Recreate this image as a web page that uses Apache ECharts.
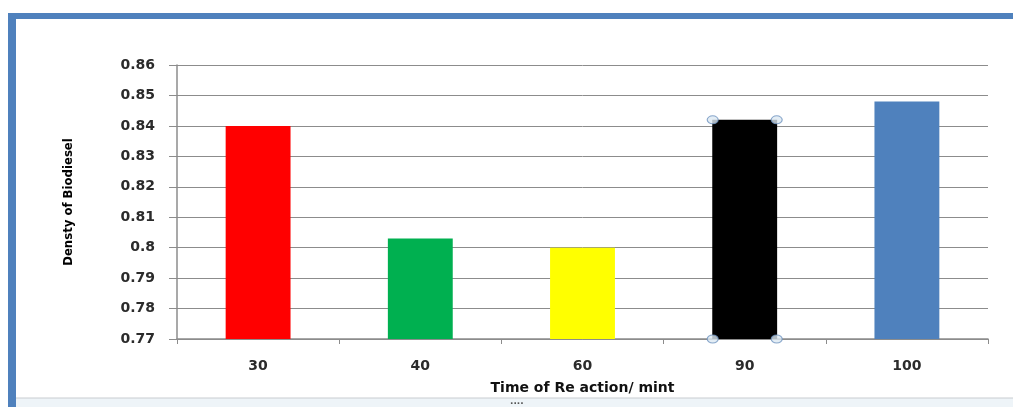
<!DOCTYPE html>
<html>
<head>
<meta charset="utf-8">
<script src="https://cdn.jsdelivr.net/npm/echarts@6/dist/echarts.min.js"></script>
<style>
  html, body { margin: 0; padding: 0; background: #fff; }
  #chart { width: 1013px; height: 407px; }
</style>
</head>
<body>
<div id="chart"></div>
<script>
// reaction time (mint) and density of biodiesel
const times = ['30', '40', '60', '90', '100'];
const density = [0.840, 0.803, 0.800, 0.842, 0.848];
const barColors = ['#ff0000', '#00b050', '#ffff00', '#000000', '#4f81bd'];
// black bar is shown selected (handles on corners)
const selectedTime = '90';
const selectedValue = 0.842;
const yMin = 0.77;

const chart = echarts.init(document.getElementById('chart'), null, { renderer: 'canvas' });

const gridColor = '#8c8c8c';
const labelFont = { fontFamily: 'DejaVu Sans', fontSize: 14, fontWeight: 'bold', color: '#2b2b2b' };

const handleStyle = { color: '#dce8f2', borderColor: '#6f94bf', borderWidth: 1 };
const handles = [[selectedTime, selectedValue], [selectedTime, yMin]];

let option = {
  animation: false,
  backgroundColor: '#fff',
  grid: { left: 177, right: 25, top: 65, bottom: 68 },
  graphic: [
    // worksheet frame around the chart
    { type: 'rect', shape: { x: 8, y: 13, width: 1005, height: 6 }, style: { fill: '#4f81bd' }, z: 0 },
    { type: 'rect', shape: { x: 8, y: 13, width: 8, height: 394 }, style: { fill: '#4f81bd' }, z: 0 },
    { type: 'rect', shape: { x: 16, y: 398, width: 997, height: 9 }, style: { fill: '#eef4f8' }, z: 0 },
    { type: 'line', shape: { x1: 16, y1: 398, x2: 1013, y2: 398 }, style: { stroke: '#c8ccd0', lineWidth: 1 }, z: 0 },
    { type: 'text', left: 510, top: 397, style: { text: '....', fill: '#555', font: 'bold 9px DejaVu Sans' }, z: 1 }
  ],
  xAxis: {
    type: 'category',
    data: times,
    name: 'Time of Re action/ mint',
    nameLocation: 'middle',
    nameGap: 42,
    nameTextStyle: { fontFamily: 'DejaVu Sans', fontWeight: 'bold', fontSize: 14, color: '#111' },
    axisLine: { lineStyle: { color: gridColor, width: 1.5 } },
    axisTick: { show: true, alignWithLabel: false, length: 5, lineStyle: { color: gridColor } },
    axisLabel: Object.assign({ margin: 20 }, labelFont),
    splitLine: { show: false }
  },
  yAxis: {
    type: 'value',
    min: 0.77,
    max: 0.86,
    interval: 0.01,
    name: 'Densty of Biodiesel',
    nameLocation: 'middle',
    nameGap: 102,
    nameRotate: 90,
    nameTextStyle: { fontFamily: 'DejaVu Sans Condensed', fontWeight: 'bold', fontSize: 13, color: '#000' },
    axisLine: { show: true, lineStyle: { color: gridColor, width: 1.5 } },
    axisTick: { show: true, length: 8, lineStyle: { color: gridColor } },
    axisLabel: Object.assign({
      margin: 22,
      formatter: v => String(Math.round(v * 100) / 100)
    }, labelFont),
    splitLine: { show: true, lineStyle: { color: gridColor, width: 1 } }
  },
  series: [
    {
      type: 'bar',
      data: density.map((v, i) => ({ value: v, itemStyle: { color: barColors[i] } })),
      barWidth: '40%',
      z: 2
    },
    {
      type: 'scatter',
      data: handles,
      symbol: 'circle',
      symbolSize: [11, 8],
      symbolOffset: [-32, 0],
      itemStyle: handleStyle,
      z: 5
    },
    {
      type: 'scatter',
      data: handles,
      symbol: 'circle',
      symbolSize: [11, 8],
      symbolOffset: [32, 0],
      itemStyle: handleStyle,
      z: 5
    }
  ]
};

chart.setOption(option);
</script>
</body>
</html>
